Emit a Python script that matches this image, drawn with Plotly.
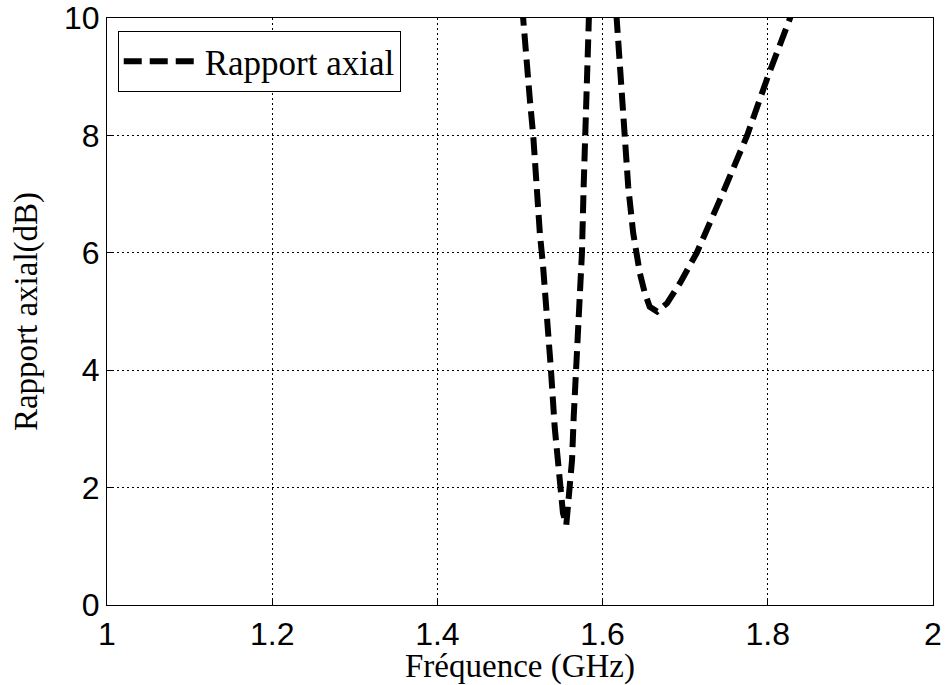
import plotly.graph_objects as go

# Axial ratio measurement (frequency in GHz, axial ratio in dB)
freq_ghz = [1.495, 1.503, 1.508, 1.512, 1.516, 1.520, 1.524, 1.528, 1.533, 1.5375,
            1.542, 1.548, 1.552, 1.556, 1.559, 1.563, 1.565, 1.568, 1.571, 1.575,
            1.577, 1.579, 1.581, 1.590, 1.600, 1.610, 1.617, 1.621, 1.625, 1.631,
            1.637, 1.645, 1.651, 1.657, 1.666, 1.678, 1.694, 1.714, 1.745, 1.775,
            1.800, 1.827, 1.835]
axial_ratio_db = [11.5, 10.0, 9.17, 8.6, 8.0, 7.12, 6.34, 5.76, 4.9, 4.0,
                  3.03, 2.0, 1.57, 1.36, 1.79, 2.47, 3.2, 4.0, 4.9, 6.0,
                  7.1, 8.5, 9.9, 13.0, 15.0, 13.0, 10.0, 9.17, 8.15, 7.13,
                  6.34, 5.66, 5.32, 5.08, 5.0, 5.14, 5.49, 6.0, 7.0, 8.0,
                  9.0, 10.0, 10.4]

x_ticks = [1, 1.2, 1.4, 1.6, 1.8, 2]
x_tick_text = ["1", "1.2", "1.4", "1.6", "1.8", "2"]
y_ticks = [0, 2, 4, 6, 8, 10]

tick_font = dict(family="Liberation Sans, Arial, sans-serif", size=32, color="black")
serif = "Liberation Serif, Times New Roman, serif"

fig = go.Figure()
fig.add_trace(go.Scatter(
    x=freq_ghz, y=axial_ratio_db, mode="lines", name="Rapport axial",
    line=dict(color="black", width=6, dash="18px,8px"),
))

axis_common = dict(
    showline=True, linecolor="black", linewidth=1.2, mirror=True,
    showgrid=True, gridcolor="black", gridwidth=1, griddash="2px,3px",
    zeroline=False, ticks="inside", ticklen=7, tickcolor="black",
    tickfont=tick_font, automargin=False,
)

fig.update_layout(
    width=946, height=685,
    margin=dict(l=107, r=13, t=18, b=80),
    paper_bgcolor="white", plot_bgcolor="white",
    showlegend=True,
    legend=dict(
        x=0.013, y=0.978, xanchor="left", yanchor="top",
        bgcolor="white", bordercolor="black", borderwidth=1,
        font=dict(family=serif, size=35, color="black"),
        itemwidth=76,
    ),
    xaxis=dict(
        range=[1, 2], tickvals=x_ticks, ticktext=x_tick_text,
        title=dict(text="Fréquence (GHz)", font=dict(family=serif, size=33, color="black"),
                   standoff=0),
        **axis_common,
    ),
    yaxis=dict(
        range=[0, 10], tickvals=y_ticks,
        title=dict(text="Rapport axial(dB)", font=dict(family=serif, size=33, color="black"),
                   standoff=16),
        **axis_common,
    ),
)

fig.write_html("out.html")
